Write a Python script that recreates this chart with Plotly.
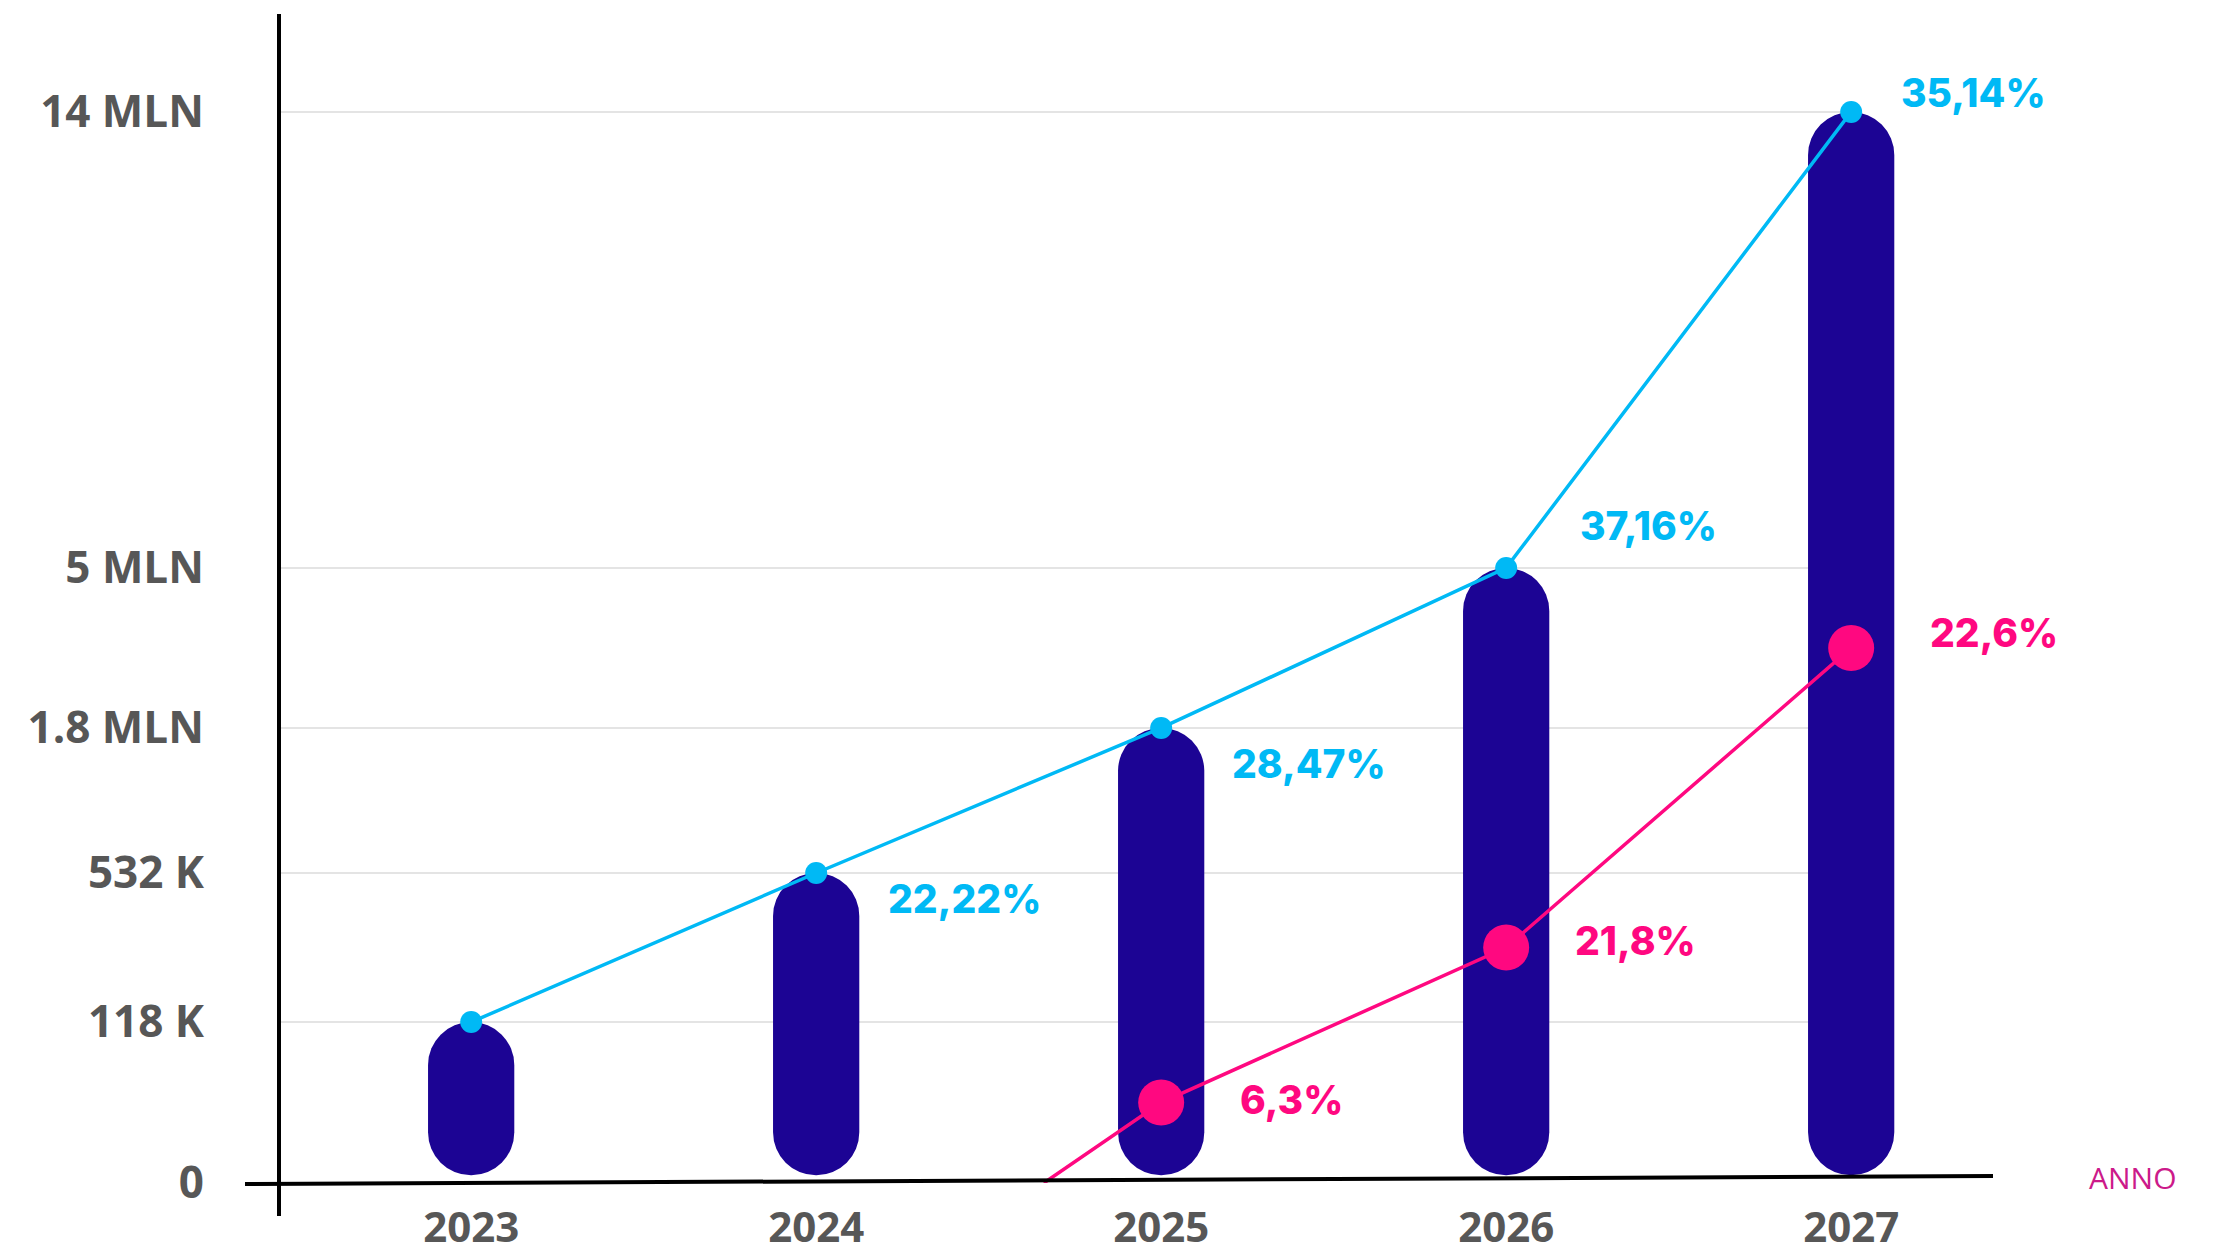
import numpy as np
import plotly.graph_objects as go

# ---------------- data ----------------
years = [2023, 2024, 2025, 2026, 2027]
users = [118_000, 532_000, 1_800_000, 5_000_000, 14_000_000]
cyan_labels = ["", "22,22%", "28,47%", "37,16%", "35,14%"]

pink_years = [2024.66, 2025, 2026, 2027]
pink_values = [0, 59_000, 325_000, 3_400_000]
pink_labels = ["", "6,3%", "21,8%", "22,6%"]

tick_values = [0, 118_000, 532_000, 1_800_000, 5_000_000, 14_000_000]
tick_labels = ["0", "118 K", "532 K", "1.8 MLN", "5 MLN", "14 MLN"]

# ---------------- style ----------------
OFF = 8  # default page body margin
W, H = 2218 - OFF, 1256 - OFF
ML, MR, MT, MB = 279 - OFF, 225, 14 - OFF, 73
PW, PH = W - ML - MR, H - MT - MB
UNIT = 154.0  # px per axis level
AXIS_LEVELS = [0, 1.045, 2.013, 2.955, 3.994, 6.955]  # non-linear axis placement of ticks
X0 = 2022.443
X1 = X0 + PW / 345.0

BAR = "#1c0494"
CYAN = "#00b9f5"
PINK = "#ff0880"
GREY = "#575757"
BAR_W = 0.25
BAR_BOTTOM = 0.05


def to_level(v):
    return np.interp(np.asarray(v, dtype=float), tick_values, AXIS_LEVELS)


top = to_level(users)

fig = go.Figure()
fig.add_trace(go.Bar(x=years, y=top - BAR_BOTTOM, base=BAR_BOTTOM, width=BAR_W,
                     marker=dict(color=BAR, cornerradius="50%", line=dict(width=0)),
                     hoverinfo="skip"))

fig.add_trace(go.Scatter(x=years, y=top, mode="lines+markers", opacity=1,
                         line=dict(color=CYAN, width=3.5),
                         marker=dict(color=CYAN, size=22, opacity=1)))

pink_lv = to_level(pink_values)
fig.add_trace(go.Scatter(x=pink_years, y=pink_lv, mode="lines+markers", opacity=1,
                         line=dict(color=PINK, width=3.5),
                         marker=dict(color=PINK, size=[0, 46, 46, 46], opacity=1,
                                     line=dict(width=0))))

pct_font = dict(family="Inter", size=39, weight=800)
cyan_shift = [(0, 0), (148, -25), (148, -36), (142, 42), (122, 19)]
for x, y, t, (dx, dy) in zip(years, top, cyan_labels, cyan_shift):
    if t:
        fig.add_annotation(x=x, y=y, xref="x", yref="y", text=t, showarrow=False,
                           xanchor="center", yanchor="middle",
                           xshift=dx, yshift=dy, font=dict(color=CYAN, **pct_font))
pink_shift = [(0, 0), (130, 3), (129, 7), (143, 15)]
for x, y, t, (dx, dy) in zip(pink_years, pink_lv, pink_labels, pink_shift):
    if t:
        fig.add_annotation(x=x, y=y, xref="x", yref="y", text=t, showarrow=False,
                           xanchor="center", yanchor="middle",
                           xshift=dx, yshift=dy, font=dict(color=PINK, **pct_font))

fig.add_annotation(x=(2132 - 279) / PW, y=(1183 - 1177) / PH, xref="paper", yref="paper",
                   text="ANNO", showarrow=False, xanchor="center", yanchor="middle",
                   font=dict(family="Open Sans", size=30, color="#cc1a8a"))

shapes = []
for lv in AXIS_LEVELS[1:]:
    shapes.append(dict(type="line", xref="x", yref="y", x0=X0, x1=years[-1], y0=lv, y1=lv,
                       line=dict(color="#e4e4e4", width=2), layer="below"))
# y axis line
shapes.append(dict(type="line", xref="paper", yref="paper", x0=0, x1=0,
                   y0=(1183 - 1216) / PH, y1=1.0, line=dict(color="black", width=4)))
# x axis line (slightly tilted like the original)
shapes.append(dict(type="line", xref="paper", yref="paper", x0=(245 - 279) / PW, x1=1.0,
                   y0=(1183 - 1184) / PH, y1=(1183 - 1176) / PH,
                   line=dict(color="black", width=4)))

fig.update_layout(
    width=W, height=H,
    margin=dict(l=ML, r=MR, t=MT, b=MB, pad=0, autoexpand=False),
    paper_bgcolor="white", plot_bgcolor="white",
    showlegend=False, barmode="overlay",
    shapes=shapes,
    xaxis=dict(range=[X0, X1], tickvals=years, ticktext=[str(y) for y in years],
               showgrid=False, zeroline=False, showline=False, ticks="",
               automargin=False, ticklabelstandoff=16,
               tickfont=dict(family="Open Sans", size=42, color=GREY, weight="bold")),
    yaxis=dict(range=[0, PH / UNIT], tickvals=AXIS_LEVELS, ticktext=tick_labels,
               showgrid=False, zeroline=False, showline=False, ticks="",
               automargin=False, ticklabelstandoff=74,
               tickfont=dict(family="Open Sans", size=44, color=GREY, weight="bold")),
)

fig.write_html("out.html", config={"displayModeBar": False})
